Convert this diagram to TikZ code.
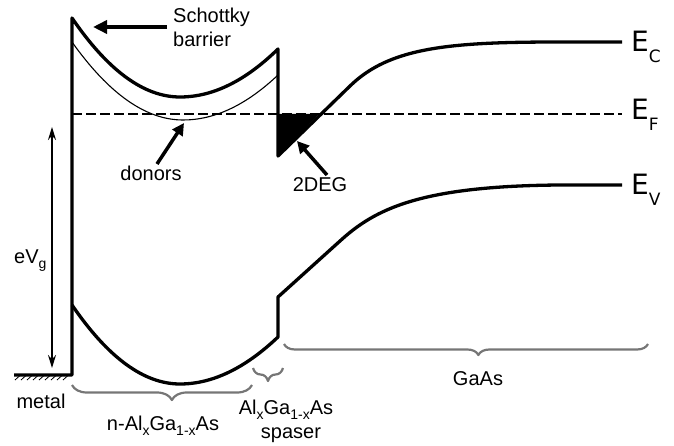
\documentclass[tikz,border=0pt]{standalone}
\usepackage{fontspec}
\setmainfont{Liberation Sans}
\newfontfamily\dejavu{DejaVu Sans}
\usetikzlibrary{arrows.meta,decorations.pathreplacing}
\definecolor{bracegray}{RGB}{118,118,118}
\newcommand\lsub[1]{\raisebox{-0.25em}{\fontsize{14}{14}\selectfont #1}}
\newcommand\esub[1]{\raisebox{-0.38em}{\fontsize{17}{17}\selectfont #1}}
\begin{document}
\begin{tikzpicture}[x=1pt,y=-1pt,line join=round,
  band/.style={line width=3.3pt},
  thinband/.style={line width=1.1pt},
  fermi/.style={line width=2.6pt,dash pattern=on 10pt off 4pt},
  lbl/.style={font=\fontsize{20}{24}\selectfont,inner sep=0pt},
  elbl/.style={font=\dejavu\fontsize{28}{30}\selectfont,inner sep=0pt,anchor=base west},
  pointer/.style={line width=3.5pt,-{Triangle[length=14pt,width=13pt]}},
  gbrace/.style={draw=bracegray,line width=2.2pt,decorate}]
\useasboundingbox (0,0) rectangle (674,446);

% metal hatching
\foreach \x in {15,21,...,63} \draw[line width=0.8pt] (\x,380) -- (\x+5,375.5);

% conduction band
\draw[band] (14,375) -- (72,375) -- (72,18)
  .. controls (108,70.7) and (144,97) .. (180,97)
  .. controls (212.7,97) and (245.3,81) .. (278,49)
  -- (278,156) -- (350,86)
  .. controls (390,47) and (450,42) .. (560,42) -- (622,42);

% donor level
\draw[thinband] (72,42) .. controls (109,94) and (146,120) .. (183,120)
  .. controls (214.7,120) and (246.3,105) .. (278,75);

% valence band
\draw[band] (72,305) .. controls (108,357.7) and (144,384) .. (180,384)
  .. controls (212.7,384) and (245.3,368) .. (278,337)
  -- (278,297) -- (340,241)
  .. controls (375,209) and (420,186) .. (560,185) -- (622,185);

% 2DEG
\fill (278,114) -- (278,156) -- (319,114) -- cycle;

% Fermi level
\draw[fermi] (72,114) -- (622,114);

% labels E
\node[elbl] (ec) at (631,52) {E\esub{C}};
\node[elbl] (ef) at (631,120) {E\esub{F}};
\node[elbl] (ev) at (631,195) {E\esub{V}};

% eVg
\coordinate (vgtop) at (52,127);
\coordinate (vgbot) at (52,368);
\draw[line width=1.8pt,{Stealth[length=13pt,width=8pt]}-{Stealth[length=13pt,width=8pt]}] (vgtop) -- (vgbot);
\node[lbl,anchor=base west] (evg) at (14,263) {eV\lsub{g}};

% Schottky barrier
\node[lbl,anchor=base west] (sch) at (173,23) {Schottky};
\node[lbl,anchor=base west] (bar) at (173,47) {barrier};
\coordinate (schtail) at (167,27);
\coordinate (schtip) at (93,27);
\draw[pointer] (schtail) -- (schtip);

% donors
\node[lbl,anchor=base] (don) at (151,181) {donors};
\coordinate (dontail) at (157,164);
\coordinate (dontip) at (184,123);
\draw[pointer,-{Triangle[length=12pt,width=12pt]}] (dontail) -- (dontip);

% 2DEG label
\node[lbl,anchor=base] (deg) at (320,192) {2DEG};
\coordinate (degtail) at (327,175);
\coordinate (degtip) at (297,141);
\draw[pointer,-{Triangle[length=12pt,width=12pt]}] (degtail) -- (degtip);

% braces
\coordinate (b1a) at (72,385); \coordinate (b1b) at (252,385);
\draw[gbrace,decoration={brace,mirror,amplitude=15pt,aspect=0.555}] (b1a) -- (b1b);
\coordinate (b2a) at (253,368); \coordinate (b2b) at (283,368);
\draw[gbrace,decoration={brace,mirror,amplitude=13pt,aspect=0.5}] (b2a) -- (b2b);
\coordinate (b3a) at (284,344); \coordinate (b3b) at (648,344);
\draw[gbrace,decoration={brace,mirror,amplitude=11pt,aspect=0.534}] (b3a) -- (b3b);

% region labels
\node[lbl,anchor=base] (metal) at (41,408) {metal};
\node[lbl,anchor=base] (nal) at (163,430) {n-Al\lsub{x}Ga\lsub{1-x}As};
\node[lbl,anchor=base] (spal) at (286,414) {Al\lsub{x}Ga\lsub{1-x}As};
\node[lbl,anchor=base] (spas) at (291,438) {spaser};
\node[lbl,anchor=base] (gaas) at (478,385) {GaAs};
\end{tikzpicture}
\end{document}
